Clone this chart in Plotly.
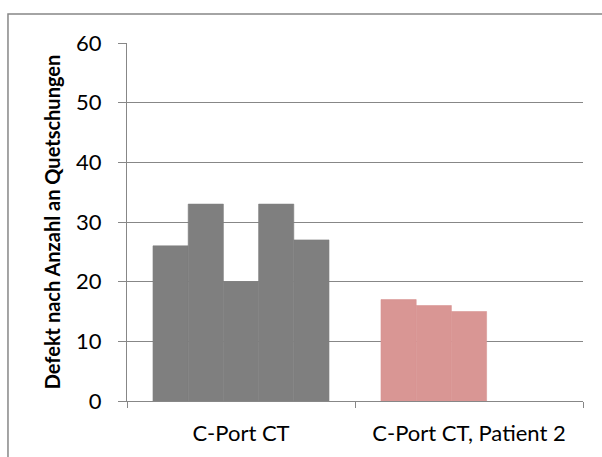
import plotly.graph_objects as go

categories = ["C-Port CT", "C-Port CT, Patient 2"]
series_values = [
    [26, 17],
    [33, 16],
    [20, 15],
    [33, None],
    [27, None],
]
category_colors = ["#7f7f7f", "#d99694"]
y_ticks = [0, 10, 20, 30, 40, 50, 60]
y_title = "Defekt nach Anzahl an Quetschungen"

fig = go.Figure()
for i, vals in enumerate(series_values):
    fig.add_trace(go.Bar(
        x=categories, y=vals, name=f"S{i+1}",
        marker=dict(color=category_colors, line=dict(width=0.6, color=category_colors)),
        showlegend=False,
    ))

grid_col = "#878787"
font_fam = "Lato, 'Open Sans', sans-serif"

fig.update_layout(
    width=602, height=457,
    margin=dict(l=127, r=19, t=43, b=56),
    paper_bgcolor="white", plot_bgcolor="white",
    barmode="group", bargap=0.228, bargroupgap=0,
    font=dict(family=font_fam, color="black", size=22),
    xaxis=dict(
        type="category", tickson="boundaries",
        ticks="outside", ticklen=6, tickcolor=grid_col, tickwidth=1.3,
        showline=True, linecolor=grid_col, linewidth=1.3,
        showgrid=False, tickfont=dict(size=22, family=font_fam),
        ticklabelstandoff=12,
    ),
    yaxis=dict(
        range=[0, 60], tickvals=y_ticks,
        ticks="outside", ticklen=8, tickcolor=grid_col, tickwidth=1.3,
        showline=True, linecolor=grid_col, linewidth=1.3,
        showgrid=True, gridcolor=grid_col, gridwidth=1.3,
        zeroline=False, tickfont=dict(size=22, family=font_fam),
        ticklabelstandoff=12,
        title=dict(text=y_title, font=dict(size=20, family="Lato, sans-serif", weight="bold"), standoff=9),
    ),
    shapes=[dict(
        type="rect", xref="paper", yref="paper",
        x0=-0.261, x1=1.06, y0=-0.18, y1=1.081,
        line=dict(color=grid_col, width=1.5), fillcolor="rgba(0,0,0,0)", layer="below",
    )],
)

fig.write_html("out.html")
